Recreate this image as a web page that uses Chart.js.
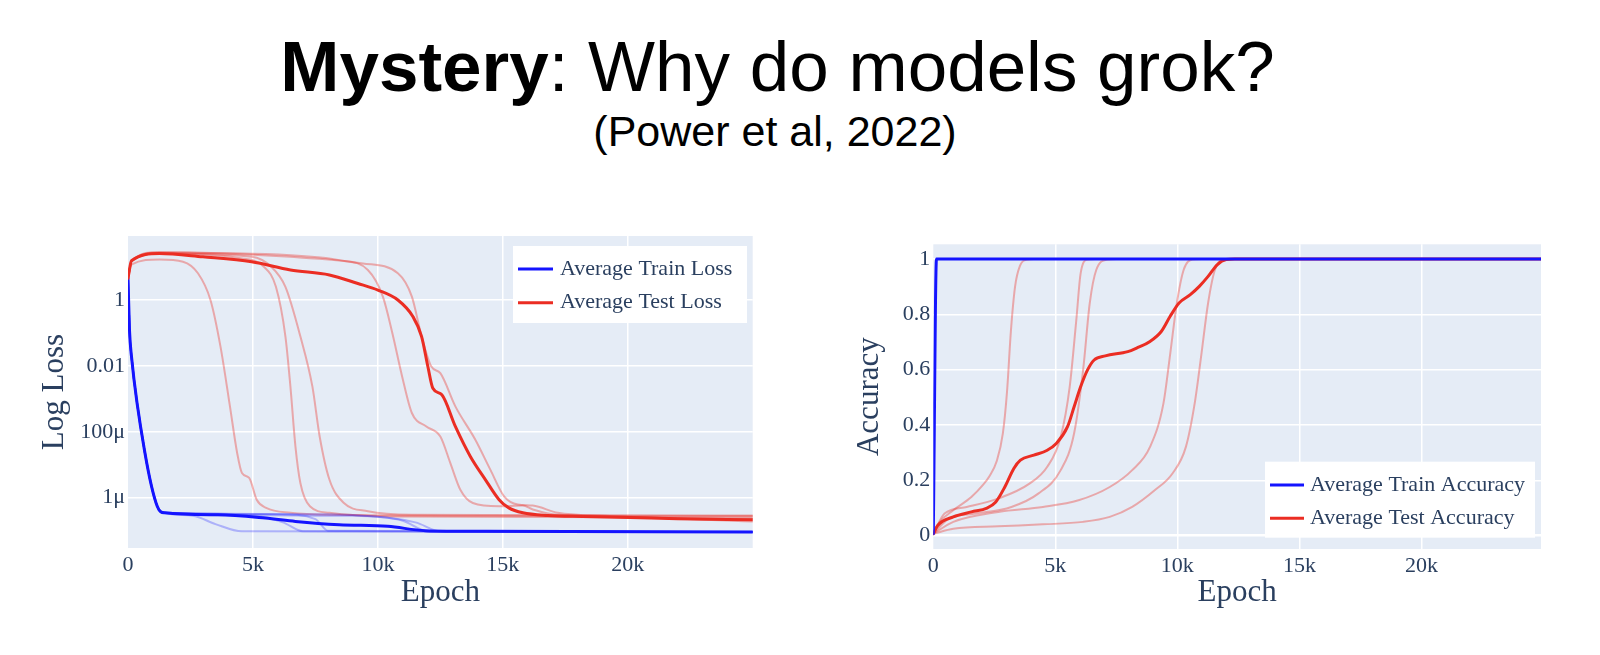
<!DOCTYPE html>
<html>
<head>
<meta charset="utf-8">
<script src="https://cdn.jsdelivr.net/npm/chart.js@4/dist/chart.umd.min.js"></script>
<style>
  html, body { margin:0; padding:0; background:#ffffff; width:1600px; height:655px; overflow:hidden; }
  #title { position:absolute; left:0; top:31px; width:1555px; text-align:center; font:71px/1 'Liberation Sans', Arial, sans-serif; color:#000; white-space:nowrap; }
  #subtitle { position:absolute; left:0; top:110px; width:1550px; text-align:center; font:43px/1 'Liberation Sans', Arial, sans-serif; color:#000; white-space:nowrap; }
  .box { position:absolute; top:200px; width:800px; height:420px; }
</style>
</head>
<body>
<div id="title"><b>Mystery</b>: Why do models grok?</div>
<div id="subtitle">(Power et al, 2022)</div>
<div class="box" style="left:0"><canvas id="lossChart" width="800" height="420"></canvas></div>
<div class="box" style="left:800px"><canvas id="accChart" width="800" height="420"></canvas></div>
<script>
// ---------- tick values / labels ----------
const epochTicks = [0, 5000, 10000, 15000, 20000];
const epochTickLabels = ['0', '5k', '10k', '15k', '20k'];
const lossTicks = [1, 0.01, 1e-4, 1e-6];
const lossTickLabels = ['1', '0.01', '100\u03bc', '1\u03bc'];
const accTicks = [0, 0.2, 0.4, 0.6, 0.8, 1];
const accTickLabels = ['0', '0.2', '0.4', '0.6', '0.8', '1'];

// ---------- Loss chart: [epoch, loss] ----------
const avgTrainLoss = [[0,4.57],[60,0.12],[140,0.019],[680,2.24e-5],[1170,5.5e-7],[1460,3.47e-7],[3600,3.02e-7],[5500,2.4e-7],[6700,1.9e-7],[8450,1.51e-7],[10400,1.35e-7],[11900,1.0e-7],[14300,9.55e-8],[25000,9.1e-8]];
const avgTestLoss = [[0,4.57],[140,15.5],[1260,25.7],[3000,20.4],[4950,14.5],[6500,8.13],[8060,5.75],[9200,3.16],[10000,2.0],[10800,1.0],[11400,0.316],[11750,0.0776],[12000,0.00955],[12200,0.00209],[12560,0.00132],[13100,1.45e-4],[13700,1.78e-5],[14300,3.55e-6],[14850,8.7e-7],[15240,4.9e-7],[15800,3.47e-7],[16800,2.88e-7],[18200,2.69e-7],[20100,2.51e-7],[22000,2.29e-7],[25000,2.14e-7]];

const trainLossRunA = [[0,4.57],[60,0.12],[140,0.019],[680,2.24e-5],[1170,5.5e-7],[1460,3.47e-7],[2600,2.82e-7],[3500,1.58e-7],[4560,9.55e-8],[25000,9.1e-8]];
const trainLossRunB = [[0,4.57],[60,0.12],[140,0.019],[680,2.24e-5],[1170,5.5e-7],[1460,3.47e-7],[5000,2.82e-7],[6200,1.78e-7],[7000,9.55e-8],[25000,9.1e-8]];
const trainLossRunC = [[0,4.57],[60,0.12],[140,0.019],[680,2.24e-5],[1170,5.5e-7],[1460,3.47e-7],[6000,3.16e-7],[7500,2.24e-7],[8000,1.0e-7],[25000,9.1e-8]];
const trainLossRunD = [[0,4.57],[60,0.12],[140,0.019],[680,2.24e-5],[1170,5.5e-7],[1460,3.47e-7],[8000,3.16e-7],[10000,2.63e-7],[11000,2.0e-7],[12000,9.55e-8],[25000,9.1e-8]];
const trainLossRunE = [[0,4.57],[60,0.12],[140,0.019],[680,2.24e-5],[1170,5.5e-7],[1460,3.47e-7],[9000,2.82e-7],[11500,1.78e-7],[12500,9.55e-8],[25000,9.1e-8]];

const testLossRunA = [[0,4.57],[150,12.0],[1260,17.0],[2200,14.5],[2800,6.46],[3300,1.0],[3700,0.039],[4080,5.9e-4],[4370,2.24e-5],[4560,5.6e-6],[4850,3.98e-6],[5150,8.7e-7],[5530,4.9e-7],[6500,3.47e-7],[8450,3.02e-7],[15000,2.82e-7],[25000,2.82e-7]];
const testLossRunB = [[0,4.57],[150,15.5],[1260,25.7],[4560,18.2],[5440,10.2],[5920,2.51],[6300,0.0776],[6500,2.34e-3],[6700,3.63e-5],[6900,2.75e-6],[7280,5.5e-7],[8060,3.47e-7],[10400,2.69e-7],[25000,2.51e-7]];
const testLossRunC = [[0,4.57],[150,15.5],[1260,25.7],[4950,20.4],[5730,10.2],[6300,2.51],[6900,0.0776],[7380,2.34e-3],[7670,7.2e-5],[8060,3.55e-6],[8640,6.9e-7],[9600,3.89e-7],[11360,3.02e-7],[25000,2.82e-7]];
const testLossRunD = [[0,4.57],[150,15.5],[1260,27],[6500,22.9],[8450,16.2],[9600,8.13],[10200,1.26],[10580,0.0977],[10970,4.79e-3],[11360,3.72e-4],[11940,1.45e-4],[12500,7.2e-5],[12900,1.12e-5],[13300,1.74e-6],[13800,6.9e-7],[14850,5.5e-7],[15800,5.75e-7],[16200,4.37e-7],[17200,3.02e-7],[25000,2.29e-7]];
const testLossRunE = [[0,4.57],[150,15.5],[1260,28.8],[6500,20.4],[9400,12.9],[10800,6.46],[11360,1.26],[11750,0.0776],[12140,9.55e-3],[12500,6.0e-3],[13100,5.9e-4],[13900,5.75e-5],[14500,7.1e-6],[15050,1.1e-6],[15600,6.2e-7],[16200,5.75e-7],[17200,3.47e-7],[19100,2.82e-7],[25000,1.9e-7]];

// ---------- Accuracy chart: [epoch, accuracy] ----------
const avgTrainAcc = [[0,0.007],[130,1.0],[24900,1.0]];
const avgTestAcc = [[0,0.007],[180,0.037],[820,0.068],[1560,0.086],[2200,0.10],[2560,0.122],[2930,0.176],[3300,0.243],[3570,0.273],[4120,0.291],[4670,0.309],[5040,0.333],[5500,0.394],[5770,0.466],[6040,0.539],[6320,0.599],[6590,0.635],[7050,0.65],[7970,0.665],[8330,0.678],[8880,0.702],[9340,0.738],[9700,0.792],[10070,0.841],[10530,0.871],[10900,0.901],[11260,0.937],[11630,0.979],[12000,0.998],[12360,1.0],[24900,1.0]];
const testAccRun1 = [[0,0.007],[270,0.05],[820,0.092],[1560,0.14],[2000,0.18],[2300,0.215],[2600,0.27],[2850,0.37],[3020,0.52],[3180,0.74],[3350,0.9],[3550,0.975],[3850,0.998],[4100,1.0],[24900,1.0]];
const testAccRun2 = [[0,0.007],[460,0.08],[1370,0.104],[2660,0.134],[3940,0.188],[4670,0.249],[5220,0.357],[5590,0.539],[5860,0.78],[6040,0.95],[6320,0.998],[6600,1.0],[24900,1.0]];
const testAccRun3 = [[0,0.007],[640,0.062],[1740,0.08],[3200,0.104],[4300,0.152],[5220,0.237],[5770,0.37],[6140,0.6],[6410,0.84],[6680,0.961],[7140,0.998],[7500,1.0],[24900,1.0]];
const testAccRun4 = [[0,0.007],[820,0.05],[2660,0.086],[4490,0.104],[5950,0.128],[7230,0.176],[8150,0.237],[8880,0.321],[9430,0.478],[9710,0.659],[9980,0.841],[10260,0.961],[10620,0.998],[11000,1.0],[24900,1.0]];
const testAccRun5 = [[0,0.007],[820,0.025],[2660,0.034],[4490,0.041],[6140,0.05],[7230,0.068],[8150,0.104],[9070,0.164],[9800,0.225],[10350,0.321],[10710,0.478],[10990,0.659],[11260,0.841],[11540,0.961],[11900,0.998],[12300,1.0],[24900,1.0]];

// ---------- styling ----------
const TEXT = '#2a3f5f';
const SERIF = "'Liberation Serif', 'Times New Roman', serif";
const BLUE = 'rgb(20,20,255)';
const RED = 'rgb(235,45,35)';
const LIGHT_BLUE = 'rgba(40,40,255,0.3)';
const LIGHT_RED = 'rgba(235,45,35,0.36)';

const toXY = arr => arr.map(([x, y]) => ({ x, y }));

function line(data, color, width, label, legendRank) {
  return {
    label: label || '',
    legendRank: label ? legendRank : -1,
    data: toXY(data),
    borderColor: color,
    backgroundColor: color,
    borderWidth: width,
    pointRadius: 0,
    fill: false,
    cubicInterpolationMode: 'monotone',
    borderCapStyle: 'round',
    borderJoinStyle: 'round'
  };
}

const plotBg = {
  id: 'plotBg',
  beforeDraw(chart, args, opts) {
    const a = chart.chartArea, ctx = chart.ctx;
    ctx.save();
    ctx.fillStyle = opts.color;
    ctx.fillRect(a.left, a.top, a.right - a.left, a.bottom - a.top);
    ctx.restore();
  }
};

const boxLegend = {
  id: 'boxLegend',
  afterDraw(chart, args, o) {
    const ctx = chart.ctx;
    ctx.save();
    ctx.fillStyle = '#ffffff';
    ctx.fillRect(o.x, o.y, o.w, o.h);
    ctx.font = '22px ' + SERIF;
    ctx.textBaseline = 'middle';
    ctx.textAlign = 'left';
    chart.data.datasets
      .filter(d => d.legendRank >= 0)
      .sort((a, b) => a.legendRank - b.legendRank)
      .forEach((d, i) => {
        const y = o.y + o.firstRow + i * o.rowGap;
        ctx.strokeStyle = d.borderColor;
        ctx.lineWidth = 3;
        ctx.beginPath();
        ctx.moveTo(o.x + o.lineStart, y);
        ctx.lineTo(o.x + o.lineEnd, y);
        ctx.stroke();
        ctx.fillStyle = TEXT;
        ctx.fillText(d.label, o.x + o.textStart, y);
      });
    ctx.restore();
  }
};

function xScale(max, height) {
  return {
    type: 'linear', min: 0, max: max,
    afterBuildTicks: s => { s.ticks = epochTicks.map(v => ({ value: v })); },
    afterFit: s => { s.height = height; },
    ticks: { callback: (v, i) => epochTickLabels[i], font: { family: SERIF, size: 22 }, color: TEXT, padding: 4, maxRotation: 0, autoSkip: false },
    grid: { color: c => (c.tick && c.tick.value === 0) ? 'rgba(0,0,0,0)' : '#ffffff', lineWidth: 1.5, drawTicks: false },
    border: { display: false },
    title: { display: true, text: 'Epoch', font: { family: SERIF, size: 31 }, color: TEXT, padding: 0 }
  };
}

// ---------- Loss chart ----------
new Chart(document.getElementById('lossChart'), {
  type: 'line',
  data: {
    datasets: [
      line(avgTestLoss, RED, 3, 'Average Test Loss', 1),
      line(avgTrainLoss, BLUE, 3, 'Average Train Loss', 0),
      line(trainLossRunA, LIGHT_BLUE, 2),
      line(trainLossRunB, LIGHT_BLUE, 2),
      line(trainLossRunC, LIGHT_BLUE, 2),
      line(trainLossRunD, LIGHT_BLUE, 2),
      line(trainLossRunE, LIGHT_BLUE, 2),
      line(testLossRunA, LIGHT_RED, 2),
      line(testLossRunB, LIGHT_RED, 2),
      line(testLossRunC, LIGHT_RED, 2),
      line(testLossRunD, LIGHT_RED, 2),
      line(testLossRunE, LIGHT_RED, 2)
    ]
  },
  options: {
    responsive: false, animation: false,
    layout: { padding: { left: 36.4, right: 47.3, top: 36, bottom: 8.9 } },
    plugins: {
      legend: { display: false }, tooltip: { enabled: false },
      plotBg: { color: '#e5ecf6' },
      boxLegend: { x: 513, y: 46, w: 234, h: 77, firstRow: 23, rowGap: 33.7, lineStart: 5, lineEnd: 40, textStart: 47 }
    },
    scales: {
      x: xScale(25000, 63.1),
      y: {
        type: 'logarithmic', min: 2.97e-8, max: 87.5,
        afterBuildTicks: s => { s.ticks = lossTicks.map(v => ({ value: v })); },
        afterFit: s => { s.width = 91.6; },
        ticks: { callback: (v, i) => lossTickLabels[i], font: { family: SERIF, size: 22 }, color: TEXT, padding: 3, autoSkip: false },
        grid: { color: '#ffffff', lineWidth: 1.5, drawTicks: false },
        border: { display: false },
        title: { display: true, text: 'Log Loss', font: { family: SERIF, size: 31 }, color: TEXT, padding: 0 }
      }
    }
  },
  plugins: [plotBg, boxLegend]
});

// ---------- Accuracy chart ----------
new Chart(document.getElementById('accChart'), {
  type: 'line',
  data: {
    datasets: [
      line(avgTrainAcc, BLUE, 3, 'Average Train Accuracy', 0),
      line(avgTestAcc, RED, 3, 'Average Test Accuracy', 1),
      line(testAccRun1, LIGHT_RED, 2),
      line(testAccRun2, LIGHT_RED, 2),
      line(testAccRun3, LIGHT_RED, 2),
      line(testAccRun4, LIGHT_RED, 2),
      line(testAccRun5, LIGHT_RED, 2)
    ]
  },
  options: {
    responsive: false, animation: false,
    layout: { padding: { left: 50.9, right: 59, top: 44.3, bottom: 8.9 } },
    plugins: {
      legend: { display: false }, tooltip: { enabled: false },
      plotBg: { color: '#e5ecf6' },
      boxLegend: { x: 465, y: 261.7, w: 270, h: 76, firstRow: 23.3, rowGap: 33.3, lineStart: 5, lineEnd: 39, textStart: 45 }
    },
    scales: {
      x: xScale(24900, 62.1),
      y: {
        type: 'linear', min: -0.048, max: 1.053,
        afterBuildTicks: s => { s.ticks = accTicks.map(v => ({ value: v })); },
        afterFit: s => { s.width = 82.4; },
        ticks: { callback: (v, i) => accTickLabels[i], font: { family: SERIF, size: 22 }, color: TEXT, padding: 3, autoSkip: false },
        grid: { color: '#ffffff', lineWidth: c => (c.tick && c.tick.value === 0) ? 2.5 : 1.5, drawTicks: false },
        border: { display: false },
        title: { display: true, text: 'Accuracy', font: { family: SERIF, size: 31 }, color: TEXT, padding: 0 }
      }
    }
  },
  plugins: [plotBg, boxLegend]
});
</script>
</body>
</html>
